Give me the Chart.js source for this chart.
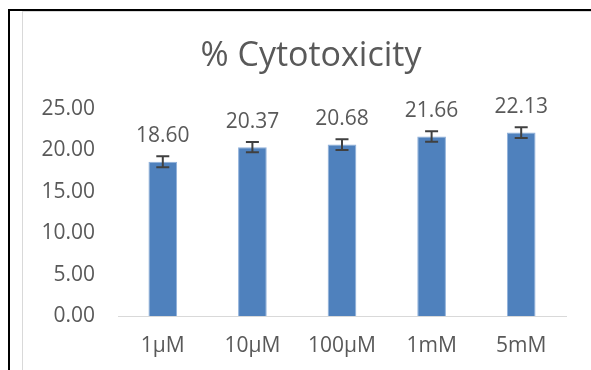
<!DOCTYPE html>
<html>
<head>
<meta charset="utf-8">
<script src="https://cdn.jsdelivr.net/npm/chart.js@4/dist/chart.umd.min.js"></script>
<style>
  html, body { margin: 0; padding: 0; background: #fff; overflow: hidden; }
  #frame { position: absolute; left: 8px; top: 9px; width: 700px; height: 500px;
           border-left: 2px solid #000; border-top: 2px solid #000; }
  #plot { position: absolute; left: 22px; top: 11px; width: 700px; height: 500px;
          border-left: 1px solid #d9d9d9; border-top: 1px solid #d9d9d9; }
  #wrap { position: absolute; left: 0; top: 0; width: 591px; height: 370px; }
</style>
</head>
<body>
<div id="frame"></div>
<div id="plot"></div>
<div id="wrap"><canvas id="chart" width="591" height="370"></canvas></div>
<script>
const categories = ["1μM", "10μM", "100μM", "1mM", "5mM"];
const cytotoxicity = [18.60, 20.37, 20.68, 21.66, 22.13];
const errors = [0.66, 0.62, 0.64, 0.64, 0.64];
const yTicks = [0, 5, 10, 15, 20, 25];

const textColor = "#595959";
const fontFamily = "'Open Sans', sans-serif";

// error bars + value labels drawn over the bars
const barExtras = {
  id: "barExtras",
  afterLayout(chart) {
    // the title is centred on the whole chart box, not only the plot
    if (chart.titleBlock) chart.titleBlock.left = 56;
  },
  afterDatasetsDraw(chart) {
    const ctx = chart.ctx;
    const y = chart.scales.y;
    const meta = chart.getDatasetMeta(0);
    ctx.save();
    meta.data.forEach((bar, i) => {
      const v = cytotoxicity[i];
      const e = errors[i];
      const top = y.getPixelForValue(v + e);
      const bot = y.getPixelForValue(v - e);
      ctx.strokeStyle = "#404040";
      ctx.lineWidth = 2;
      ctx.beginPath();
      ctx.moveTo(bar.x, top);
      ctx.lineTo(bar.x, bot);
      ctx.moveTo(bar.x - 6.5, top);
      ctx.lineTo(bar.x + 6.5, top);
      ctx.moveTo(bar.x - 6.5, bot);
      ctx.lineTo(bar.x + 6.5, bot);
      ctx.stroke();

      ctx.fillStyle = textColor;
      ctx.font = "21px " + fontFamily;
      ctx.textAlign = "center";
      ctx.textBaseline = "middle";
      ctx.fillText(v.toFixed(2), bar.x, top - 20);
    });
    ctx.restore();
  }
};

const ctx = document.getElementById("chart").getContext("2d");
new Chart(ctx, {
  type: "bar",
  data: {
    labels: categories,
    datasets: [
      {
        label: "% Cytotoxicity",
        data: cytotoxicity,
        backgroundColor: "#4f81bd",
        borderColor: "#8fb0da",
        borderWidth: 1,
        categoryPercentage: 1,
        barPercentage: 0.32,
      },
    ],
  },
  options: {
    responsive: false,
    animation: false,
    layout: { padding: { left: 0, right: 25, top: 0, bottom: 11 } },
    plugins: {
      legend: { display: false },
      tooltip: { enabled: false },
      title: {
        display: true,
        text: "% Cytotoxicity",
        color: textColor,
        font: { family: fontFamily, size: 34, weight: "normal" },
        padding: { top: 36, bottom: 32 },
      },
    },
    scales: {
      x: {
        afterFit: (s) => { s.height = 43; },
        grid: { display: false, drawTicks: false },
        border: { display: true, color: "#d9d9d9", width: 1 },
        ticks: { color: textColor, font: { family: fontFamily, size: 21 }, padding: 17 },
      },
      y: {
        min: 0,
        max: 25,
        afterBuildTicks: (s) => { s.ticks = yTicks.map((v) => ({ value: v })); },
        afterFit: (s) => { s.width = 118; },
        grid: { display: false, drawTicks: false },
        border: { display: false },
        ticks: {
          color: textColor,
          font: { family: fontFamily, size: 21 },
          padding: 23,
          callback: (v) => Number(v).toFixed(2),
        },
      },
    },
  },
  plugins: [barExtras],
});
</script>
</body>
</html>
